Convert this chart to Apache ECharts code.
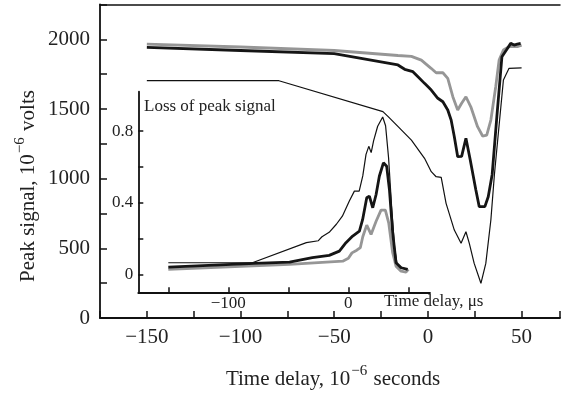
<!DOCTYPE html>
<html>
<head>
<meta charset="utf-8">
<script src="https://cdn.jsdelivr.net/npm/echarts@6/dist/echarts.min.js"></script>
<style>html,body{margin:0;padding:0;background:#fff}#c{width:563px;height:393px}</style>
</head>
<body>
<div id="c"></div>
<script>
// ---- Main chart data (time delay in 10^-6 s, peak signal in 10^-6 V) ----
var mainGrayX  = [-150, -100, -50, -16, -8.8, -3.5, 1.7, 4.4, 8.0, 10.6, 13.3, 15.9, 18.0, 20.3, 22.9, 26.5, 29.2, 31.4, 33.6, 36.2, 38.0, 40.3, 43.3, 46, 47.7, 50];
var mainGrayY  = [1966, 1945, 1920, 1884, 1878, 1851, 1792, 1760, 1760, 1720, 1588, 1493, 1541, 1588, 1516, 1373, 1306, 1313, 1421, 1660, 1851, 1923, 1947, 1950, 1947, 1958];
var mainBlackX = [-150, -100, -50, -16, -12.4, -8, -5.3, -1.8, 1.8, 5.3, 8, 10.6, 12.4, 14.1, 15.9, 18, 20.3, 22.6, 25.6, 27.4, 30.4, 32.2, 34.3, 36.8, 39.5, 41.9, 44.2, 46, 47.7, 49.5];
var mainBlackY = [1942, 1920, 1897, 1816, 1785, 1768, 1732, 1684, 1636, 1577, 1552, 1493, 1421, 1301, 1158, 1160, 1290, 1134, 918, 799, 799, 870, 1030, 1445, 1875, 1923, 1971, 1959, 1966, 1971];
var mainThinX  = [-150, -79.5, -24, -21.2, -15.9, -8.8, -1.8, 1.8, 4.4, 7.1, 9.7, 14.1, 17.7, 18.6, 20.3, 22.1, 24.7, 28.3, 30.9, 33.6, 35.5, 40.3, 43.3, 50];
var mainThinY  = [1703, 1703, 1481, 1445, 1373, 1277, 1146, 1050, 1014, 1009, 823, 631, 536, 524, 619, 536, 392, 249, 392, 703, 1030, 1708, 1792, 1795];

// ---- Inset data (time delay in µs, loss of peak signal) ----
var insetThinX  = [-150, -80, -35, -25, -22, -16, -10, -5, 0.8, 5, 9, 12, 14.7, 17, 19, 21, 24.4, 28.6, 31, 33.5, 36, 38.5, 40.5, 44, 48];
var insetThinY  = [0.065, 0.065, 0.177, 0.188, 0.21, 0.235, 0.28, 0.325, 0.41, 0.465, 0.465, 0.55, 0.67, 0.715, 0.68, 0.745, 0.827, 0.879, 0.83, 0.65, 0.38, 0.15, 0.06, 0.04, 0.03];
var insetBlackX = [-150, -78, -49, -30, -16, -7.5, -2, 3.6, 9.2, 11.9, 15.3, 17.5, 20.3, 23.1, 25.8, 29.2, 31.9, 34.2, 36.9, 39.7, 43.9, 49.4];
var insetBlackY = [0.041, 0.061, 0.069, 0.093, 0.106, 0.13, 0.177, 0.214, 0.242, 0.307, 0.428, 0.437, 0.372, 0.446, 0.548, 0.623, 0.604, 0.474, 0.233, 0.065, 0.037, 0.028];
var insetGrayX  = [-150, -49, -4.7, 0, 3, 7, 10, 12, 15.3, 18.9, 23.1, 27.2, 30.8, 33.6, 36.9, 39.7, 43.9, 48, 50];
var insetGrayY  = [0.028, 0.056, 0.074, 0.09, 0.12, 0.135, 0.15, 0.21, 0.275, 0.223, 0.297, 0.359, 0.359, 0.288, 0.121, 0.046, 0.018, 0.013, 0.028];

// ---- Axis tick values ----
var mainXLabelStep = 50, mainXTickStep = 25;
var mainYLabelStep = 500, mainYTickStep = 250;
var insetXTicks  = [-150, -100, -50, 0, 50];
var insetXLabels = [-100, 0];
var insetYTicks  = [0, 0.2, 0.4, 0.6, 0.8];
var insetYLabels = [0, 0.4, 0.8];

function pairs(xs, ys) { return xs.map(function (x, i) { return [x, ys[i]]; }); }
function minus(v) { return String(v).replace('-', '\u2212'); }

var FONT = 'Liberation Serif';
var TXT = '#222';
var GRAY = '#969696';
var BLACK = '#151515';

var chart = echarts.init(document.getElementById('c'));
chart.setOption({
  animation: false,
  backgroundColor: '#fff',
  textStyle: { fontFamily: FONT },
  grid: [
    { left: 100, top: 4.5, right: 0, bottom: 75 },
    { left: 138.3, top: 91.7, width: 291.7, height: 200.6 }
  ],
  xAxis: [
    {
      gridIndex: 0, type: 'value', min: -175, max: 70.5, interval: mainXTickStep,
      axisLine: { onZero: false, lineStyle: { color: '#111', width: 1.8 } },
      axisTick: { inside: true, length: 7, lineStyle: { color: '#111', width: 1.5 } },
      splitLine: { show: false },
      axisLabel: {
        margin: 9, color: TXT, fontSize: 21, fontFamily: FONT,
        formatter: function (v) { return (Math.round(v) % mainXLabelStep === 0) ? minus(v) : ''; }
      }
    },
    {
      gridIndex: 0, type: 'value', position: 'top', min: -175, max: 70.5,
      axisLine: { show: true, onZero: false, lineStyle: { color: '#111', width: 1.5 } },
      axisTick: { show: false }, axisLabel: { show: false }, splitLine: { show: false }
    },
    {
      gridIndex: 1, type: 'value', min: -175, max: 68,
      axisLine: { onZero: false, lineStyle: { color: '#111', width: 1.8 } },
      axisTick: { inside: true, length: 5, customValues: insetXTicks, lineStyle: { color: '#111', width: 1.5 } },
      splitLine: { show: false },
      axisLabel: {
        margin: 3, color: TXT, fontSize: 17, fontFamily: FONT, customValues: insetXLabels,
        formatter: function (v) { return minus(v); }
      }
    }
  ],
  yAxis: [
    {
      gridIndex: 0, type: 'value', min: 0, max: 2250, interval: mainYTickStep,
      axisLine: { show: true, onZero: false, lineStyle: { color: '#111', width: 1.8 } },
      axisTick: { show: true, inside: true, length: 7, lineStyle: { color: '#111', width: 1.5 } },
      splitLine: { show: false },
      axisLabel: {
        margin: 10, color: TXT, fontSize: 21, fontFamily: FONT,
        formatter: function (v) { return (v % mainYLabelStep === 0) ? String(v) : ''; }
      }
    },
    {
      gridIndex: 1, type: 'value', min: -0.1, max: 1.02,
      axisLine: { show: true, onZero: false, lineStyle: { color: '#111', width: 1.8 } },
      axisTick: { show: true, inside: true, length: 5, customValues: insetYTicks, lineStyle: { color: '#111', width: 1.5 } },
      splitLine: { show: false },
      axisLabel: {
        margin: 5, color: TXT, fontSize: 17, fontFamily: FONT, customValues: insetYLabels,
        formatter: function (v) { return String(Math.round(v * 10) / 10); }
      }
    }
  ],
  series: [
    { type: 'line', xAxisIndex: 0, yAxisIndex: 0, data: pairs(mainThinX, mainThinY), showSymbol: false, lineStyle: { color: '#111', width: 1.2 } },
    { type: 'line', xAxisIndex: 0, yAxisIndex: 0, data: pairs(mainGrayX, mainGrayY), showSymbol: false, lineStyle: { color: GRAY, width: 2.8 } },
    { type: 'line', xAxisIndex: 0, yAxisIndex: 0, data: pairs(mainBlackX, mainBlackY), showSymbol: false, lineStyle: { color: BLACK, width: 2.8 } },
    { type: 'line', xAxisIndex: 2, yAxisIndex: 1, data: pairs(insetThinX, insetThinY), showSymbol: false, lineStyle: { color: '#111', width: 1.2 } },
    { type: 'line', xAxisIndex: 2, yAxisIndex: 1, data: pairs(insetGrayX, insetGrayY), showSymbol: false, lineStyle: { color: GRAY, width: 2.8 } },
    { type: 'line', xAxisIndex: 2, yAxisIndex: 1, data: pairs(insetBlackX, insetBlackY), showSymbol: false, lineStyle: { color: BLACK, width: 2.8 } }
  ],
  graphic: [
    {
      type: 'text', x: 333, y: 377,
      style: {
        text: '{n|Time delay, 10}{s|\u22126}{n| seconds}',
        align: 'center', verticalAlign: 'middle', fill: TXT, font: '21px ' + FONT,
        rich: { n: { fontSize: 21, fontFamily: FONT, fill: TXT, lineHeight: 26, verticalAlign: 'bottom' },
                s: { fontSize: 15, fontFamily: FONT, fill: TXT, lineHeight: 26, verticalAlign: 'top', padding: [0, 1, 0, 1] } }
      }
    },
    {
      type: 'text', x: 26, y: 186, rotation: Math.PI / 2,
      style: {
        text: '{n|Peak signal, 10}{s|\u22126}{n| volts}',
        align: 'center', verticalAlign: 'middle', fill: TXT, font: '21px ' + FONT,
        rich: { n: { fontSize: 21, fontFamily: FONT, fill: TXT, lineHeight: 26, verticalAlign: 'bottom' },
                s: { fontSize: 15, fontFamily: FONT, fill: TXT, lineHeight: 26, verticalAlign: 'top', padding: [0, 1, 0, 1] } }
      }
    },
    {
      type: 'text', x: 144, y: 107,
      style: { text: 'Loss of peak signal', fill: TXT, font: '17px ' + FONT, verticalAlign: 'middle' }
    },
    {
      type: 'text', x: 384, y: 302,
      style: { text: 'Time delay, \u03bcs', fill: TXT, font: '17px ' + FONT, verticalAlign: 'middle' }
    }
  ]
});
</script>
</body>
</html>
